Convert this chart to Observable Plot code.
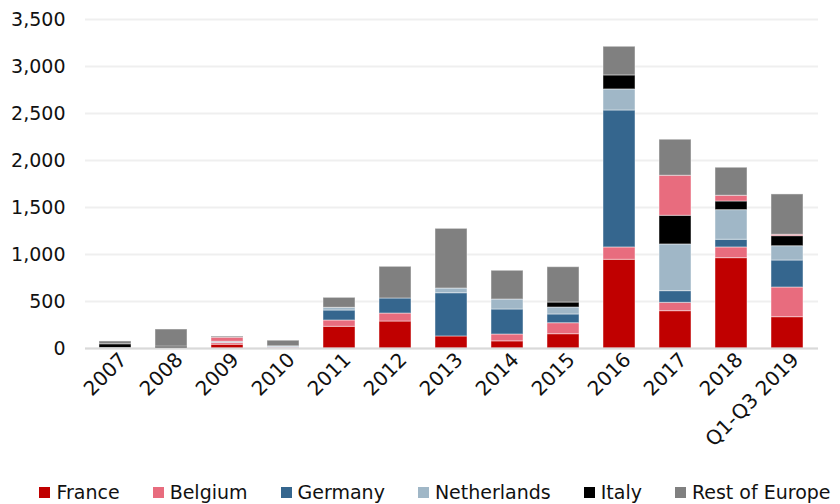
<!DOCTYPE html>
<html>
<head>
<meta charset="utf-8">
<script src="https://cdn.jsdelivr.net/npm/d3@7"></script>
<script src="https://cdn.jsdelivr.net/npm/@observablehq/plot@0.6"></script>
<style>
  html, body { margin: 0; padding: 0; background: #fff; }
  body { width: 840px; height: 504px; overflow: hidden; font-family: "DejaVu Sans", sans-serif; }
  #legend { display: flex; justify-content: center; gap: 33px; font-size: 19px; color: #111; margin-top: 16px; padding-left: 30px; }
  #legend .item { display: flex; align-items: center; gap: 6px; }
  #legend .sw { width: 11px; height: 11px; display: inline-block; }
</style>
</head>
<body>
<div id="chart"></div>
<div id="legend"></div>
<script>
const years = ["2007","2008","2009","2010","2011","2012","2013","2014","2015","2016","2017","2018","Q1-Q3 2019"];
const france      = [0, 0, 40, 0, 231, 287, 128, 76, 152, 944, 397, 961, 333];
const belgium     = [0, 0, 18, 8, 67, 85, 0, 73, 117, 131, 89, 114, 316];
const germany     = [0, 0, 0, 5, 106, 160, 460, 266, 93, 1457, 124, 82, 287];
const netherlands = [5, 0, 14, 10, 29, 0, 50, 106, 74, 224, 497, 315, 152];
const italy       = [40, 20, 0, 0, 0, 0, 0, 0, 53, 149, 305, 92, 107];
const other       = [0, 0, 43, 0, 0, 0, 0, 0, 0, 0, 426, 61, 15]; // unlabelled pink segment
const restOfEurope= [30, 182, 12, 60, 106, 337, 635, 306, 376, 305, 383, 298, 429];

const seriesNames  = ["France","Belgium","Germany","Netherlands","Italy","Other","Rest of Europe"];
const seriesValues = [france, belgium, germany, netherlands, italy, other, restOfEurope];
const seriesColors = ["#C00000","#E86C7E","#35668E","#A0B7C7","#000000","#E86C7E","#808080"];
const legendNames  = ["France","Belgium","Germany","Netherlands","Italy","Rest of Europe"];
const yTicks = [0,500,1000,1500,2000,2500,3000,3500];

const data = [];
seriesNames.forEach((s, i) => years.forEach((y, j) => data.push({year: y, series: s, value: seriesValues[i][j]})));

const chart = Plot.plot({
  width: 840,
  height: 465,
  marginLeft: 85,
  marginRight: 22,
  marginTop: 19,
  marginBottom: 117,
  style: {fontFamily: "DejaVu Sans, sans-serif", fontSize: "19px", color: "#111", background: "#fff"},
  x: {domain: years, paddingInner: 0.42, paddingOuter: 0.21, label: null},
  y: {domain: [0, 3500], label: null},
  color: {domain: seriesNames, range: seriesColors},
  marks: [
    Plot.gridY(yTicks, {stroke: "#efefef", strokeOpacity: 1, strokeWidth: 2}),
    Plot.barY(data, Plot.stackY({order: seriesNames}, {x: "year", y: "value", z: "series", fill: "series", stroke: "#fff", strokeOpacity: 0.45, strokeWidth: 1})),
    Plot.ruleY([0], {stroke: "#d9d9d9", strokeWidth: 2}),
    Plot.axisY(yTicks, {tickSize: 0, tickPadding: 20, tickFormat: d3.format(","), fontSize: 19}),
    Plot.axisX({tickSize: 0, tickRotate: -45, tickPadding: 8, dx: 8, fontSize: 20})
  ]
});
document.getElementById("chart").appendChild(chart);

const leg = document.getElementById("legend");
legendNames.forEach(n => {
  const it = document.createElement("span");
  it.className = "item";
  const sw = document.createElement("span");
  sw.className = "sw";
  sw.style.background = seriesColors[seriesNames.indexOf(n)];
  it.appendChild(sw);
  it.appendChild(document.createTextNode(n));
  leg.appendChild(it);
});
</script>
</body>
</html>
